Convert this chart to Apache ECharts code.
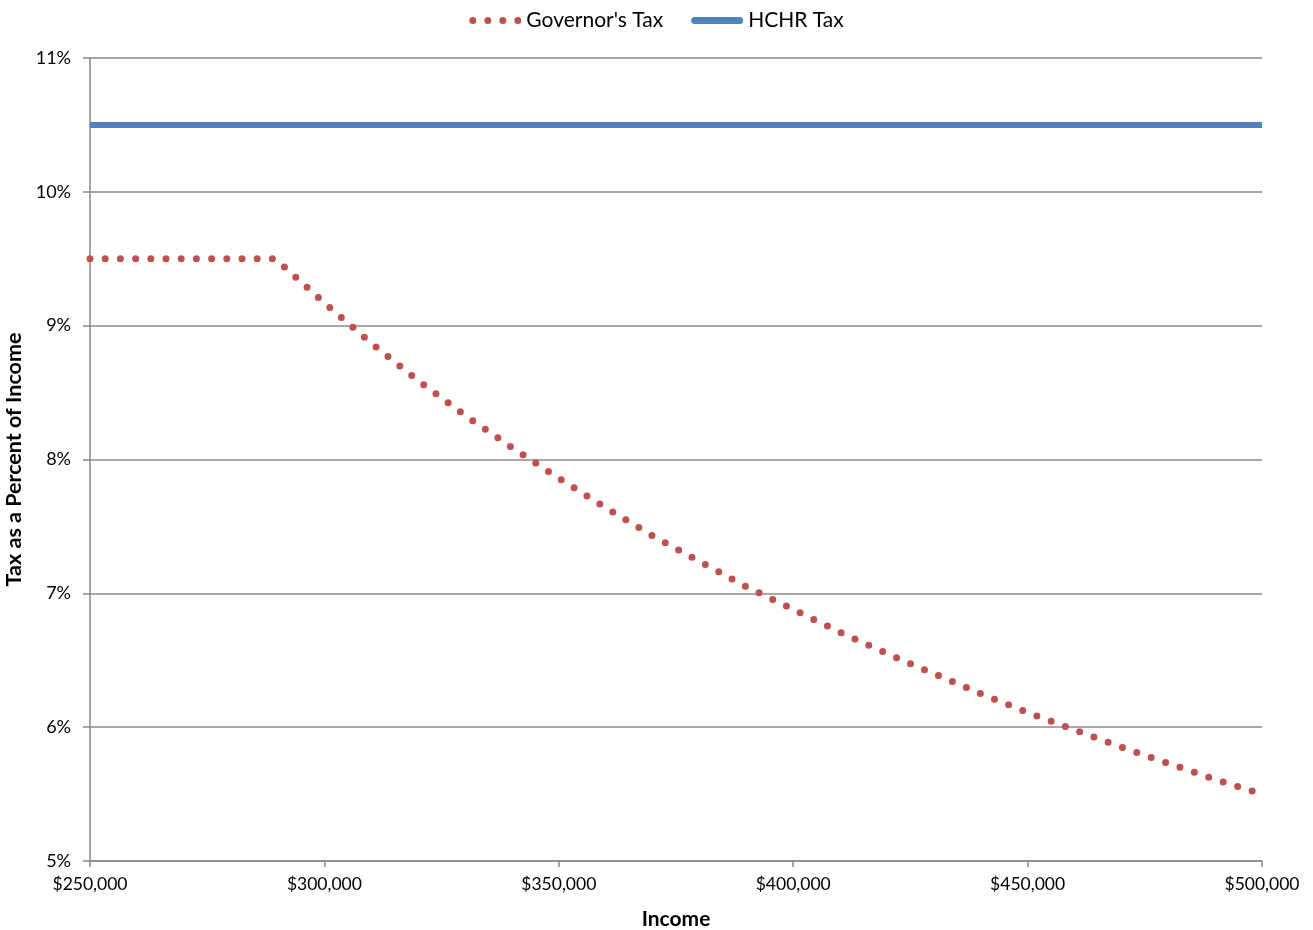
<!DOCTYPE html>
<html>
<head>
<meta charset="utf-8">
<title>Tax as a Percent of Income</title>
<script src="https://cdn.jsdelivr.net/npm/echarts@6/dist/echarts.min.js"></script>
<style>
  html, body { margin: 0; padding: 0; background: #fff; }
  #chart { width: 1313px; height: 930px; }
</style>
</head>
<body>
<div id="chart"></div>
<script>
// Income levels (dollars)
const incomes = [
  250000, 260000, 270000, 280000, 289500, 300000, 310000, 320000, 330000,
  340000, 350000, 360000, 370000, 380000, 390000, 400000, 410000, 420000,
  430000, 440000, 450000, 460000, 470000, 480000, 490000, 500000
];
// Governor's plan: tax as a percent of income
const governorRate = [
  9.5, 9.5, 9.5, 9.5, 9.5, 9.17, 8.87, 8.59, 8.33,
  8.09, 7.86, 7.64, 7.43, 7.24, 7.05, 6.88, 6.71, 6.55,
  6.40, 6.25, 6.11, 5.98, 5.85, 5.73, 5.61, 5.50
];
// HCHR plan: flat rate across the income range
const hchrIncomes = [250000, 500000];
const hchrRate = [10.5, 10.5];

const yTicks = { min: 5, max: 11, step: 1 };
const xTicks = { min: 250000, max: 500000, step: 50000 };

const FONT = 'Lato, "Open Sans", sans-serif';
const AXIS_GRAY = '#8a8a8a';
const RED = '#C0504D';
const BLUE = '#4F81BD';

// Legend glyphs: a row of four dots, and a short rounded bar
const DOTS_ICON = 'path://M0,3.5a3.5,3.5 0 1,0 7,0a3.5,3.5 0 1,0 -7,0z' +
  'M15,3.5a3.5,3.5 0 1,0 7,0a3.5,3.5 0 1,0 -7,0z' +
  'M30,3.5a3.5,3.5 0 1,0 7,0a3.5,3.5 0 1,0 -7,0z' +
  'M45,3.5a3.5,3.5 0 1,0 7,0a3.5,3.5 0 1,0 -7,0z';
const BAR_ICON = 'path://M3.5,0L48.5,0A3.5,3.5 0 0,1 48.5,7L3.5,7A3.5,3.5 0 0,1 3.5,0z';

const chart = echarts.init(document.getElementById('chart'), null, { renderer: 'canvas' });

chart.setOption({
  backgroundColor: '#ffffff',
  animation: false,
  textStyle: { fontFamily: FONT, color: '#000' },
  legend: {
    top: 5,
    left: 'center',
    itemWidth: 52,
    itemHeight: 7,
    itemGap: 28,
    textStyle: { fontFamily: FONT, fontSize: 21, color: '#000' },
    data: [
      { name: "Governor's Tax", icon: DOTS_ICON, itemStyle: { color: RED, borderWidth: 0 } },
      { name: 'HCHR Tax', icon: BAR_ICON, itemStyle: { color: BLUE, borderWidth: 0 } }
    ]
  },
  grid: {
    left: 90, right: 51, top: 58, bottom: 69,
    containLabel: false,
    outerBoundsMode: 'none'
  },
  xAxis: {
    type: 'value',
    min: xTicks.min,
    max: xTicks.max,
    interval: xTicks.step,
    name: 'Income',
    nameLocation: 'middle',
    nameGap: 48,
    nameTextStyle: { fontFamily: FONT, fontSize: 21, fontWeight: 'bold', color: '#000' },
    axisLine: { show: true, lineStyle: { color: AXIS_GRAY, width: 1.5 } },
    axisTick: { show: true, length: 6, inside: false, lineStyle: { color: AXIS_GRAY, width: 1.5 } },
    axisLabel: {
      margin: 14,
      fontFamily: FONT,
      fontSize: 17.5,
      color: '#000',
      formatter: v => '$' + v.toLocaleString('en-US')
    },
    splitLine: { show: false }
  },
  yAxis: {
    type: 'value',
    min: yTicks.min,
    max: yTicks.max,
    interval: yTicks.step,
    name: 'Tax as a Percent of Income',
    nameLocation: 'middle',
    nameGap: 58,
    nameRotate: 90,
    nameTextStyle: { fontFamily: FONT, fontSize: 21.5, fontWeight: 'bold', color: '#000' },
    axisLine: { show: true, lineStyle: { color: AXIS_GRAY, width: 1.5 } },
    axisTick: { show: true, length: 7, inside: false, lineStyle: { color: AXIS_GRAY, width: 1.5 } },
    axisLabel: {
      margin: 19,
      fontFamily: FONT,
      fontSize: 18,
      color: '#000',
      formatter: '{value}%'
    },
    splitLine: { show: true, lineStyle: { color: AXIS_GRAY, width: 1.5 } }
  },
  series: [
    {
      name: "Governor's Tax",
      type: 'line',
      showSymbol: false,
      symbol: 'none',
      data: incomes.map((x, i) => [x, governorRate[i]]),
      lineStyle: { color: RED, width: 7, type: [0, 15.2], cap: 'round' },
      itemStyle: { color: RED },
      z: 3
    },
    {
      name: 'HCHR Tax',
      type: 'line',
      showSymbol: false,
      symbol: 'none',
      data: hchrIncomes.map((x, i) => [x, hchrRate[i]]),
      lineStyle: { color: BLUE, width: 6, cap: 'butt' },
      itemStyle: { color: BLUE },
      z: 2
    }
  ]
});
</script>
</body>
</html>
